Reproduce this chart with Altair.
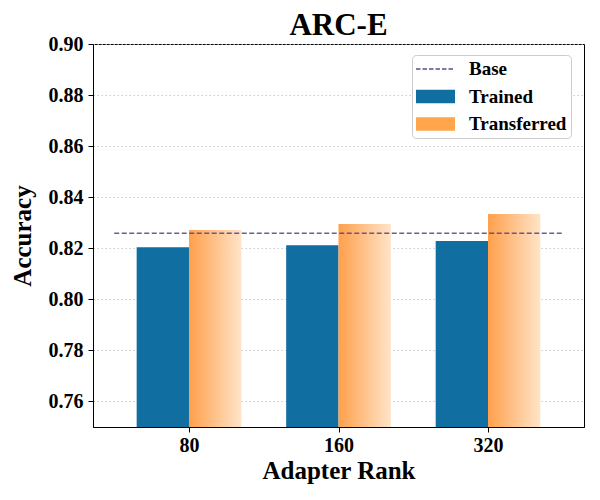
import altair as alt
import pandas as pd

ranks = ["80", "160", "320"]
trained = [0.8204, 0.8212, 0.8228]
transferred = [0.8272, 0.8295, 0.8334]
base = 0.8259
series = ["Base", "Trained", "Transferred"]
colors = ["#5b4d84", "#106ea0", "#ffa64d"]

FONT = "Liberation Serif"
bw = 0.35

df = pd.DataFrame({
    "idx": list(range(len(ranks))),
    "rank": ranks,
    "Trained": trained,
    "Transferred": transferred,
})

xscale = alt.Scale(domain=[-0.642, 2.642], nice=False, zero=False)
yscale = alt.Scale(domain=[0.75, 0.90], nice=False, zero=False)

label_expr = "datum.value == 0 ? '80' : datum.value == 1 ? '160' : '320'"

xaxis = alt.Axis(values=[0, 1, 2], labelExpr=label_expr, title="Adapter Rank", grid=False,
                 labelFont=FONT, labelFontSize=20, labelFontWeight="bold", labelColor="black",
                 titleFont=FONT, titleFontSize=25, titleFontWeight="bold", titleColor="black",
                 tickSize=5, tickColor="black", domainColor="black", labelPadding=3, titlePadding=3)
yaxis = alt.Axis(values=[0.76, 0.78, 0.80, 0.82, 0.84, 0.86, 0.88, 0.90], format=".2f", title="Accuracy",
                 grid=True, gridDash=[1.5, 2.5], gridColor="#bbbbbb", gridWidth=0.8,
                 labelFont=FONT, labelFontSize=20, labelFontWeight="bold", labelColor="black",
                 titleFont=FONT, titleFontSize=25, titleFontWeight="bold", titleColor="black",
                 tickSize=5, tickColor="black", domainColor="black", labelPadding=5, titlePadding=13)

base_chart = alt.Chart(df)

bars_tr = base_chart.transform_calculate(
    x0="datum.idx - %f" % bw
).mark_bar(color=colors[1]).encode(
    x=alt.X("x0:Q", scale=xscale, axis=xaxis),
    x2=alt.X2("idx:Q"),
    y=alt.Y("Trained:Q", scale=yscale, axis=yaxis),
    y2=alt.datum(0.75),
)

grad = alt.Gradient(
    gradient="linear",
    stops=[alt.GradientStop(color="#ffa04c", offset=0), alt.GradientStop(color="#ffe4c8", offset=1)],
    x1=0, x2=1, y1=0, y2=0,
)
bars_tf = base_chart.transform_calculate(
    x1="datum.idx + %f" % bw
).mark_bar(fill=grad).encode(
    x=alt.X("idx:Q", scale=xscale),
    x2=alt.X2("x1:Q"),
    y=alt.Y("Transferred:Q", scale=yscale),
    y2=alt.datum(0.75),
)

rule_df = pd.DataFrame({"x0": [-0.5], "x1": [2.5], "base": [base]})
rule = alt.Chart(rule_df).mark_rule(color=colors[0], strokeDash=[5, 2.5], strokeWidth=1.4, opacity=0.9).encode(
    x=alt.X("x0:Q", scale=xscale),
    x2="x1:Q",
    y=alt.Y("base:Q", scale=yscale),
)

# legend symbol paths (units of 10 px)
dashes = []
for i in range(6):
    a = -1 + i * 0.65
    b = a + 0.45
    dashes.append("M%.3f,-0.065H%.3fV0.065H%.3fZ" % (a, b, a))
dash_path = " ".join(dashes)
rect_path = "M-1,-0.68H2.9V0.68H-1Z"
paths = [dash_path, rect_path, rect_path]

leg_props = dict(title=None, orient="none", legendX=319, legendY=11, labelFont=FONT, labelFontSize=19,
                 labelFontWeight="bold", labelColor="black", symbolSize=400, symbolOpacity=1,
                 symbolStrokeWidth=0, fillColor="white", strokeColor="#cccccc", cornerRadius=4,
                 padding=4, labelOffset=33, rowPadding=7.5)

leg_df = pd.DataFrame({"series": series})
legend_layer = alt.Chart(leg_df).mark_point(filled=True, opacity=0, size=400).encode(
    x=alt.datum(0, scale=xscale),
    y=alt.datum(0.8, scale=yscale),
    color=alt.Color("series:N", scale=alt.Scale(domain=series, range=colors), legend=alt.Legend(**leg_props)),
    shape=alt.Shape("series:N", scale=alt.Scale(domain=series, range=paths), legend=alt.Legend(**leg_props)),
)

chart = alt.layer(bars_tr, bars_tf, rule, legend_layer).properties(
    width=491, height=383,
    title=alt.Title("ARC-E", font=FONT, fontSize=31, fontWeight="bold", color="black", offset=-8, frame="group"),
    autosize=alt.AutoSizeParams(type="none"),
    padding={"left": 85, "top": 36, "right": 8, "bottom": 65},
).configure_view(stroke="black", strokeWidth=1).configure_axis(domainWidth=1, tickWidth=1)

chart.save("out.html", embed_options={"renderer": "svg", "actions": False})
